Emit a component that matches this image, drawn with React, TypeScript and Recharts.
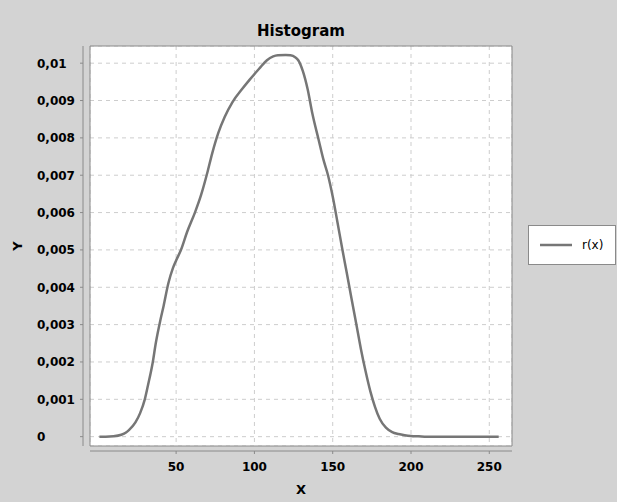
// Histogram line chart, JFreeChart-like look
import React from 'react';
import {
  LineChart,
  Line,
  XAxis,
  YAxis,
  CartesianGrid,
  Legend,
  ReferenceArea,
} from 'recharts';

// x positions (grey level) and r(x) values
const xValues = [
  1, 5, 10, 15, 18, 20, 24, 27, 30, 32, 35, 37, 40, 42, 45, 48, 50, 53, 57, 62, 66,
  70, 73, 77, 81, 86, 92, 97, 103, 108, 112, 115, 120, 123, 126, 128, 131, 134,
  137, 141, 144, 147, 150, 153, 156, 159, 162, 165, 168, 171, 174, 177, 180, 184,
  188, 192, 196, 200, 205, 210, 220, 230, 240, 250, 256,
];
const rValues = [
  0, 0, 0.00001, 0.00005, 0.00011, 0.00018, 0.00038, 0.00063, 0.001, 0.00137,
  0.00197, 0.0025, 0.00313, 0.0035, 0.0041, 0.00452, 0.00472, 0.00499, 0.00548, 0.006,
  0.00648, 0.00708, 0.00758, 0.00814, 0.00856, 0.00896, 0.0093, 0.00956, 0.00985,
  0.01008, 0.01018, 0.01021, 0.01022, 0.01021, 0.01016, 0.01008, 0.00978, 0.0093,
  0.00865, 0.00795, 0.00743, 0.007, 0.00643, 0.00575, 0.00505, 0.00438, 0.0037,
  0.00303, 0.00235, 0.00175, 0.00122, 0.0008, 0.00048, 0.00024, 0.00012, 0.00007,
  0.00004, 0.00002, 0.00001, 0, 0, 0, 0, 0, 0,
];

const xTicks = [50, 100, 150, 200, 250];
const yTicks = [0, 0.001, 0.002, 0.003, 0.004, 0.005, 0.006, 0.007, 0.008, 0.009, 0.01];
const xDomain = [-5, 264.5];
const yDomain = [-0.00025, 0.01046];

const data = xValues.map((x, i) => ({ x, r: rValues[i] }));

const COLORS = {
  background: '#d3d3d3',
  plot: '#ffffff',
  grid: '#cdcdcd',
  axis: '#8a8a8a',
  line: '#767676',
  text: '#000000',
};

const FONT = '"DejaVu Sans", sans-serif';

const fmtY = (v: number) => {
  if (v === 0) return '0';
  return String(Number(v.toFixed(3))).replace('.', ',');
};

const YTick = (props: any) => {
  const { y, payload } = props;
  return (
    <text x={37} y={y + 4.5} textAnchor="start" fontFamily={FONT} fontWeight="bold" fontSize={12} fill={COLORS.text}>
      {fmtY(payload.value)}
    </text>
  );
};

const XTick = (props: any) => {
  const { x, payload } = props;
  return (
    <text x={x} y={470.5} textAnchor="middle" fontFamily={FONT} fontWeight="bold" fontSize={12} fill={COLORS.text}>
      {payload.value}
    </text>
  );
};

const LegendBox = (props: any) => {
  const { payload } = props;
  return (
    <div
      style={{
        width: 86,
        height: 38,
        background: '#fff',
        border: `1px solid ${COLORS.axis}`,
        display: 'flex',
        alignItems: 'center',
        fontFamily: FONT,
        fontSize: 12,
      }}
    >
      {(payload || []).map((entry: any) => (
        <div key={entry.value} style={{ display: 'flex', alignItems: 'center' }}>
          <svg width={32} height={6} style={{ marginLeft: 11, marginRight: 10 }}>
            <line x1={0} y1={3} x2={32} y2={3} stroke={entry.color} strokeWidth={2.5} />
          </svg>
          <span>{entry.value}</span>
        </div>
      ))}
    </div>
  );
};

export default function App() {
  return (
    <div
      style={{
        position: 'absolute',
        left: 0,
        top: 0,
        width: 617,
        height: 502,
        background: COLORS.background,
      }}
    >
      <div
        style={{
          position: 'absolute',
          left: 90,
          width: 422,
          top: 22,
          lineHeight: '18px',
          textAlign: 'center',
          fontFamily: FONT,
          fontWeight: 'bold',
          fontSize: 15,
        }}
      >
        Histogram
      </div>
      <LineChart
        width={617}
        height={502}
        data={data}
        margin={{ top: 46, right: 105, bottom: 0, left: 0 }}
      >
        <CartesianGrid
          stroke={COLORS.grid}
          strokeDasharray="4 4"
          fill={COLORS.plot}
          fillOpacity={1}
        />
        <XAxis
          dataKey="x"
          type="number"
          domain={xDomain}
          ticks={xTicks}
          height={56}
          axisLine={{ stroke: COLORS.axis, transform: 'translate(0,5)' }}
          tickLine={{ stroke: COLORS.axis, transform: 'translate(0,5)' }}
          tickSize={3}
          tick={<XTick />}
          allowDataOverflow
          label={({ viewBox }: any) => (
            <text
              x={viewBox.x + viewBox.width / 2}
              y={494}
              textAnchor="middle"
              fontFamily={FONT}
              fontWeight="bold"
              fontSize={13}
            >
              X
            </text>
          )}
        />
        <YAxis
          type="number"
          domain={yDomain}
          ticks={yTicks}
          width={90}
          axisLine={{ stroke: COLORS.axis, transform: 'translate(-7,0)' }}
          tickLine={{ stroke: COLORS.axis, transform: 'translate(-7,0)' }}
          tickSize={3}
          tick={<YTick />}
          allowDataOverflow
          label={({ viewBox }: any) => {
            const cy = viewBox.y + viewBox.height / 2;
            return (
              <text
                x={22}
                y={cy}
                textAnchor="middle"
                transform={`rotate(-90, 22, ${cy})`}
                fontFamily={FONT}
                fontWeight="bold"
                fontSize={13}
              >
                Y
              </text>
            );
          }}
        />
        <ReferenceArea
          x1={xDomain[0]}
          x2={xDomain[1]}
          y1={yDomain[0]}
          y2={yDomain[1]}
          fill="none"
          stroke={COLORS.axis}
          strokeWidth={1}
        />
        <Legend
          layout="vertical"
          align="center"
          verticalAlign="middle"
          content={<LegendBox />}
          wrapperStyle={{ left: 528, top: 225, width: 88 }}
        />
        <Line
          type="monotone"
          dataKey="r"
          name="r(x)"
          stroke={COLORS.line}
          strokeWidth={2.5}
          dot={false}
          isAnimationActive={false}
        />
      </LineChart>
    </div>
  );
}
